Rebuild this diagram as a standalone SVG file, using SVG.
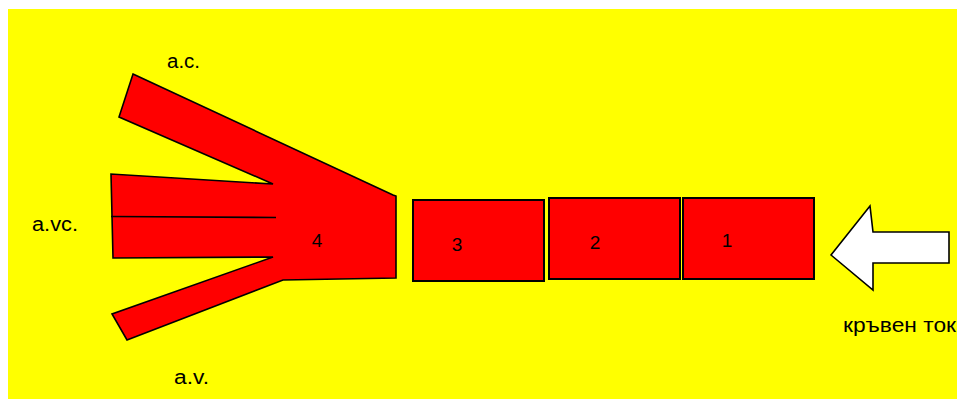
<svg xmlns="http://www.w3.org/2000/svg" width="957" height="399" viewBox="0 0 957 399">
<style>
.red{fill:#ff0000;stroke:#000;stroke-width:1.6;stroke-linejoin:miter}
.box{fill:#ff0000;stroke:#000;stroke-width:2}
.lbl{font-family:"Liberation Sans",Arial,sans-serif;font-size:20px;fill:#000}
.num{font-family:"Liberation Sans",Arial,sans-serif;font-size:19px;fill:#000;text-anchor:middle}
</style>
<rect id="background" x="8" y="9" width="949" height="390" fill="#ffff00"/>
<g id="node-4">
<path class="red" d="M133,74 L393,195 L396,196 L396,278 L283,280 L127,340 L112,314 L273,257 L113,258 L111,174 L273,184 L119,117 Z"/>
<line x1="111" y1="216.5" x2="276" y2="217.5" stroke="#000" stroke-width="1.6"/>
<text class="num" x="317" y="247">4</text>
</g>
<g id="node-3">
<rect class="box" x="413" y="200" width="131" height="81"/>
<text class="num" x="457" y="251">3</text>
</g>
<g id="node-2">
<rect class="box" x="549" y="198" width="131" height="81"/>
<text class="num" x="595" y="249">2</text>
</g>
<g id="node-1">
<rect class="box" x="683" y="198" width="131" height="81"/>
<text class="num" x="727" y="247">1</text>
</g>
<g id="connectors">
<path id="flow-arrow" d="M831,255 L870,206 L873,232 L949,232 L949,263 L873,263 L873,290 Z" fill="#fff" stroke="#000" stroke-width="1.6"/>
</g>
<g id="labels">
<text class="lbl" x="167" y="68" textLength="33" lengthAdjust="spacingAndGlyphs">a.c.</text>
<text class="lbl" x="32" y="231" textLength="46" lengthAdjust="spacingAndGlyphs">a.vc.</text>
<text class="lbl" x="174" y="384" textLength="35" lengthAdjust="spacingAndGlyphs">a.v.</text>
<text class="lbl" x="843" y="332" font-size="18" textLength="113" lengthAdjust="spacingAndGlyphs">кръвен ток</text>
</g>
</svg>
